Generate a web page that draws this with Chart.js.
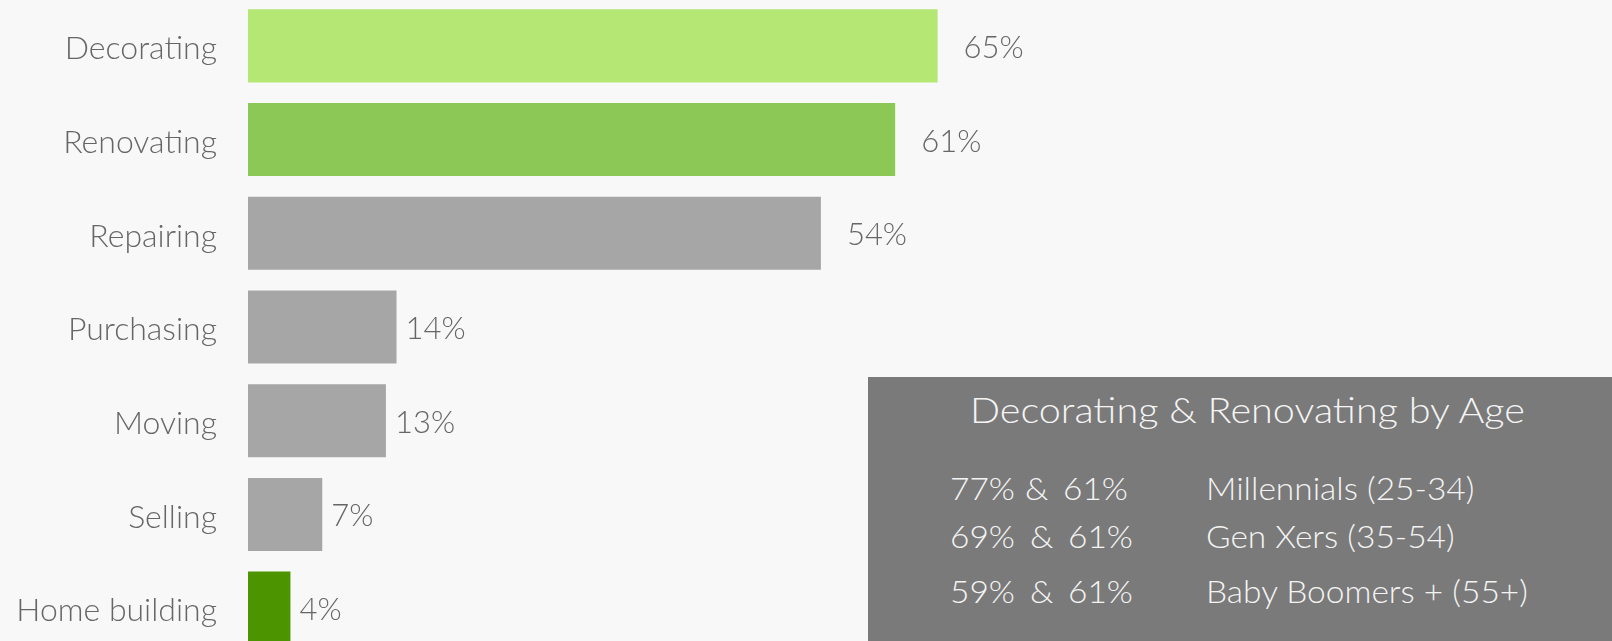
<!DOCTYPE html>
<html>
<head>
<meta charset="utf-8">
<script src="https://cdn.jsdelivr.net/npm/chart.js@4.4.1/dist/chart.umd.min.js"></script>
<style>
  body { margin: 0; background: #f8f8f8; overflow: hidden; font-family: Lato, sans-serif; }
  #wrap { position: relative; width: 1612px; height: 641px; overflow: hidden; }
  #holder { position: absolute; left: 0; top: -1px; width: 1612px; height: 656px; }
  #box { position: absolute; left: 868px; top: 377px; width: 744px; height: 264px; background: #7a7a7a; color: #f4f4f4; }
  #box div { position: absolute; white-space: pre; transform-origin: 0 0; font-weight: 300; }
  .title { left: 102px; top: 10px; font-size: 36px; transform: scaleX(1.1); }
  .row { font-size: 31px; transform: scaleX(1.08); }
</style>
</head>
<body>
<div id="wrap">
  <div id="holder"><canvas id="grafico"></canvas></div>
  <div id="box">
    <div class="title">Decorating &amp; Renovating by Age</div>
    <div class="row" style="left:82px;top:92px">77%</div>
    <div class="row" style="left:157px;top:92px">&amp;</div>
    <div class="row" style="left:195px;top:92px">61%</div>
    <div class="row" style="left:338px;top:92px">Millennials (25-34)</div>
    <div class="row" style="left:82px;top:140px">69%</div>
    <div class="row" style="left:162px;top:140px">&amp;</div>
    <div class="row" style="left:200px;top:140px">61%</div>
    <div class="row" style="left:338px;top:140px">Gen Xers (35-54)</div>
    <div class="row" style="left:82px;top:195px">59%</div>
    <div class="row" style="left:162px;top:195px">&amp;</div>
    <div class="row" style="left:200px;top:195px">61%</div>
    <div class="row" style="left:338px;top:195px">Baby Boomers + (55+)</div>
  </div>
</div>
<script>
const categorias = ["Decorating", "Renovating", "Repairing", "Purchasing", "Moving", "Selling", "Home building"];
const valores = [65, 61, 54, 14, 13, 7, 4];
const cores = ["#b5e775", "#8bc855", "#a6a6a6", "#a6a6a6", "#a6a6a6", "#a6a6a6", "#4c9500"];

// Rótulos de valor ao lado das barras
const rotulos = {
  id: "rotulos",
  afterDatasetsDraw(chart) {
    const ctx = chart.ctx;
    ctx.save();
    ctx.font = "300 31px Lato";
    ctx.fillStyle = "#666";
    ctx.textBaseline = "middle";
    chart.getDatasetMeta(0).data.forEach((bar, i) => {
      const gap = valores[i] > 50 ? 26 : 9;
      ctx.fillText(valores[i] + "%", bar.x + gap, bar.y + 2);
    });
    ctx.restore();
  }
};

new Chart(document.getElementById("grafico"), {
  type: "bar",
  data: {
    labels: categorias,
    datasets: [{
      data: valores,
      backgroundColor: cores,
      barPercentage: 0.78,
      categoryPercentage: 1
    }]
  },
  options: {
    indexAxis: "y",
    responsive: true,
    maintainAspectRatio: false,
    animation: false,
    layout: { padding: { right: 6 } },
    scales: {
      x: { display: false, min: 0, max: 128 },
      y: {
        afterFit: s => { s.width = 248; s.paddingTop = 0; s.paddingBottom = 0; },
        grid: { display: false, drawTicks: false },
        border: { display: false },
        ticks: { color: "#666", font: { family: "Lato", size: 32, weight: 300 }, padding: 31, labelOffset: 3 }
      }
    },
    plugins: {
      legend: { display: false },
      tooltip: { enabled: false }
    }
  },
  plugins: [rotulos]
});
</script>
</body>
</html>
